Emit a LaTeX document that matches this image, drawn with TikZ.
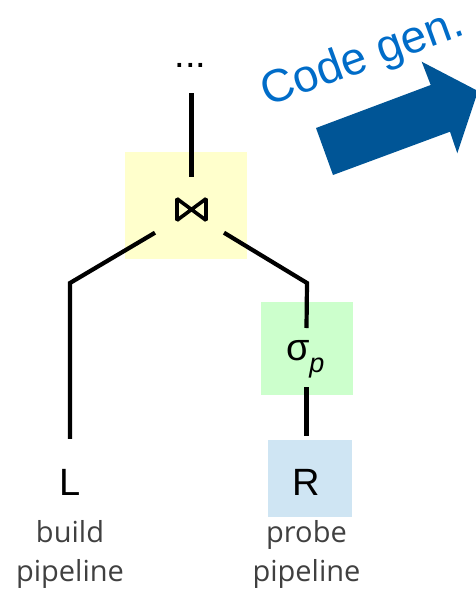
\documentclass[tikz,border=0pt]{standalone}
\usepackage{fontspec}
\setmainfont{Liberation Sans}
\newfontfamily\labelfont{Open Sans}

\definecolor{joinfill}{RGB}{255,255,204}
\definecolor{selfill}{RGB}{204,255,204}
\definecolor{relfill}{RGB}{207,229,243}
\definecolor{gentext}{RGB}{0,108,200}
\definecolor{genarrow}{RGB}{0,85,150}
\definecolor{labelgray}{RGB}{64,64,64}

\begin{document}
\begin{tikzpicture}[x=1pt,y=-1pt,
  edge/.style={line width=4.2pt,black,line join=miter,line cap=butt},
  opbox/.style={inner sep=0pt,outer sep=0pt,draw=none},
  optext/.style={inner sep=0pt,outer sep=0pt,font=\fontsize{38}{38}\selectfont},
  pipelabel/.style={inner sep=0pt,anchor=base,text=labelgray,
    font=\labelfont\fontsize{29}{39}\selectfont},
  tie/.style={line width=3.6pt,black,line join=bevel}]

\useasboundingbox (0,0) rectangle (476,590);

% operator boxes
\node[opbox,fill=joinfill,minimum width=122pt,minimum height=107pt] (join) at (186,205.5) {};
\node[opbox,fill=selfill,minimum width=92pt,minimum height=93pt] (sel) at (306.5,348.5) {};
\node[opbox,fill=relfill,minimum width=84pt,minimum height=77pt] (rel) at (310,478.5) {};

% join symbol
\node[opbox,minimum width=29pt,minimum height=21.5pt] (bowtie) at (191.5,209.5) {};
\draw[tie] (bowtie.north west) -- (bowtie.south east) -- (bowtie.north east)
  -- (bowtie.south west) -- cycle;

% operator labels
\node[optext,anchor=base] (dots) at (190.5,67) {...};
\node[optext,anchor=base] (L) at (70,495) {L};
\node[optext,anchor=base] (R) at (306.5,495) {R};
\node[optext,anchor=base west] (sigmap) at (286,360)
  {σ\raisebox{-12pt}{\fontsize{27}{27}\selectfont\itshape p}};

% pipeline captions
\node[pipelabel] (build) at (70,542.7) {build};
\node[pipelabel] (buildp) at (70,581.5) {pipeline};
\node[pipelabel] (probe) at (306.5,542.7) {probe};
\node[pipelabel] (probep) at (306.5,581.5) {pipeline};

% tree edges
\draw[edge] ([yshift=-26pt]dots.base -| bowtie.north) -- ([yshift=22pt]bowtie.north);
\draw[edge] ([shift={(-36.5,23.2)}]bowtie.center) -- (70,283)
  -- ([yshift=30pt]L.north);
\draw[edge] ([shift={(32.5,23.2)}]bowtie.center) -- (307,283)
  -- ([yshift=20.5pt]sel.center);
\draw[edge] ([yshift=-38.5pt]sel.center) -- ([yshift=4pt]rel.north -| sel.center);

% code generation arrow
\node[inner sep=0pt,text=gentext,font=\fontsize{46}{46}\selectfont,
  rotate=20,anchor=base west] (codegen) at (267,107) {Code gen.};
\begin{scope}
  \clip (0,0) rectangle (476,590);
  \fill[genarrow] (316,128) -- (430.7,85) -- (421.7,61.7) -- (478,91)
    -- (457.3,153.3) -- (450,131.7) -- (333,175) -- cycle;
\end{scope}
\end{tikzpicture}
\end{document}
